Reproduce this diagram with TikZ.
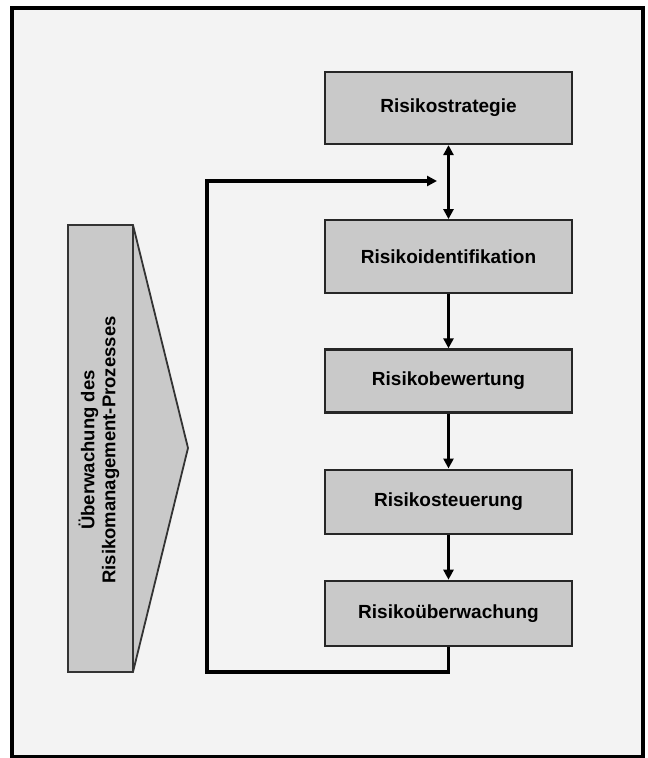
\documentclass[tikz,border=0pt]{standalone}
\usepackage{fontspec}
\setmainfont{Liberation Sans}
\usetikzlibrary{arrows.meta, positioning}
\definecolor{boxgray}{HTML}{C9C9C9}
\definecolor{paper}{HTML}{F3F3F3}

\begin{document}
\begin{tikzpicture}[x=1pt, y=-1pt,
  step box/.style={draw=black!85, line width=2.2pt, fill=boxgray,
    minimum width=247pt, inner sep=0pt, font=\fontsize{19}{22}\selectfont\bfseries},
  flow/.style={line width=3.4pt, -{Triangle[length=10pt,width=10pt]}},
  bothflow/.style={line width=3.4pt, {Triangle[length=10pt,width=10pt]}-{Triangle[length=10pt,width=10pt]}}]
  \useasboundingbox (0,0) rectangle (648,758);
  \draw[line width=4pt, fill=paper] (12,8) rectangle (643,757);

  \node[step box, minimum height=72pt] (strat) at (448.5,108) {Risikostrategie};
  \node[step box, minimum height=73pt, below=74pt of strat] (ident) {Risikoidentifikation};
  \node[step box, minimum height=63pt, below=54pt of ident] (bew) {Risikobewertung};
  \node[step box, minimum height=64pt, below=55pt of bew] (steu) {Risikosteuerung};
  \node[step box, minimum height=65pt, below=45pt of steu] (ueb) {Risikoüberwachung};

  \path[bothflow] (strat) edge (ident);
  \path[flow] (ident) edge (bew) (bew) edge (steu) (steu) edge (ueb);

  % Rueckkopplung
  \coordinate (lb) at (207,672);
  \coordinate (lt) at (207,181);
  \coordinate (in) at (437,181);
  \draw[flow, line join=miter] (ueb.south) |- (lb) -- (lt) -- (in);

  % Ueberwachungspfeil links
  \draw[draw=black!80, line width=1.8pt, fill=boxgray, line join=miter]
    (68,225) -- (133,225) -- (188,448) -- (133,672) -- (68,672) -- cycle;
  \draw[draw=black!80, line width=1.8pt] (133,225) -- (133,672);
  \node[rotate=90, align=center, font=\fontsize{18.5}{21}\selectfont\bfseries] (mon) at (99,450)
    {Überwachung des\\Risikomanagement-Prozesses};
\end{tikzpicture}
\end{document}
